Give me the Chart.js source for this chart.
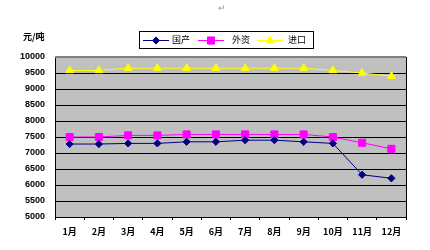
<!DOCTYPE html>
<html><head><meta charset="utf-8">
<script src="https://cdn.jsdelivr.net/npm/chart.js@4"></script>
<style>html,body{margin:0;padding:0;background:#fff;}#wrap{width:430px;height:250px;}</style>
</head><body><div id="wrap"><canvas id="c" width="430" height="250"></canvas></div>
<script>
const categories = ["1月","2月","3月","4月","5月","6月","7月","8月","9月","10月","11月","12月"];
const domestic = [7280,7280,7300,7300,7350,7350,7400,7400,7350,7300,6320,6210];
const foreign  = [7500,7500,7550,7550,7580,7580,7580,7580,7580,7500,7320,7130];
const imported = [9580,9580,9650,9650,9650,9650,9650,9650,9650,9580,9500,9400];
const seriesNames = ["国产","外资","进口"];
const yUnit = "元/吨";

const cjk = '"Noto Sans CJK SC", sans-serif';
const num = '"Liberation Sans", Arial, sans-serif';

const decor = {
  id:'decor',
  beforeDatasetsDraw(chart){
    const {ctx, chartArea:a} = chart;
    ctx.save();
    ctx.strokeStyle='#808080'; ctx.lineWidth=2;
    ctx.beginPath(); ctx.moveTo(a.left,a.top); ctx.lineTo(a.right,a.top); ctx.stroke();
    ctx.strokeStyle='#000'; ctx.lineWidth=1;
    ctx.beginPath(); ctx.moveTo(a.right+0.5,a.top); ctx.lineTo(a.right+0.5,a.bottom); ctx.stroke();
    ctx.restore();
  },
  afterDraw(chart){
    const {ctx} = chart;
    ctx.save();
    ctx.fillStyle='#999'; ctx.font='9px '+cjk; ctx.textAlign='center'; ctx.textBaseline='middle';
    ctx.fillText('↵',222,8);
    ctx.fillStyle='#000'; ctx.font='bold 9px '+cjk; ctx.textAlign='left';
    ctx.fillText(yUnit,23,37);
    ctx.strokeStyle='#000'; ctx.lineWidth=1;
    ctx.strokeRect(139.5,31.5,174,17);
    const items=[
      {x:143,c:'#000080',t:168},
      {x:198,c:'#FF00FF',t:228},
      {x:257,c:'#FFFF00',t:284}
    ];
    items.forEach((it,i)=>{
      const y=40;
      ctx.strokeStyle=it.c; ctx.lineWidth=1;
      ctx.beginPath(); ctx.moveTo(it.x,y+0.5); ctx.lineTo(it.x+26,y+0.5); ctx.stroke();
      const d = chart.data.datasets[i];
      ctx.fillStyle=it.c;
      Chart.helpers.drawPoint(ctx,{pointStyle:d.pointStyle,radius:d.pointRadius,rotation:0,borderWidth:1},it.x+13,y+0.5);
      ctx.fillStyle='#000'; ctx.font='9px '+cjk; ctx.textAlign='left'; ctx.textBaseline='middle';
      ctx.fillText(seriesNames[i],it.t+4,y);
    });
    ctx.restore();
  }
};

const bg = {
  id:'bg',
  beforeDraw(chart){
    const {ctx, chartArea:a} = chart;
    ctx.save(); ctx.fillStyle='#C0C0C0'; ctx.fillRect(a.left,a.top,a.right-a.left,a.bottom-a.top); ctx.restore();
  }
};

function ds(label,data,color,style,r){
  return {label,data,borderColor:color,backgroundColor:color,pointBorderColor:color,pointBackgroundColor:color,
    pointStyle:style,pointRadius:r,pointHoverRadius:r,borderWidth:1,tension:0};
}

new Chart(document.getElementById('c'),{
  type:'line',
  data:{labels:categories,datasets:[
    ds(seriesNames[0],domestic,'#000080','rectRot',3.6),
    ds(seriesNames[1],foreign,'#FF00FF','rect',5),
    ds(seriesNames[2],imported,'#FFFF00','triangle',4.5)
  ]},
  options:{
    responsive:false, animation:false, devicePixelRatio:1,
    layout:{padding:{left:0,right:24,top:57,bottom:0}},
    plugins:{legend:{display:false},tooltip:{enabled:false}},
    scales:{
      x:{offset:true,
        grid:{offset:true,drawOnChartArea:false,drawTicks:true,tickLength:3,color:'#000'},
        border:{color:'#000',width:1},
        ticks:{color:'#000',font:{family:cjk,size:9,weight:'bold'},padding:6,maxRotation:0,autoSkip:false},
        afterFit(s){s.height=33;}
      },
      y:{min:5000,max:10000,
        grid:{color:'#000',lineWidth:1,drawTicks:false},
        border:{color:'#000',width:1},
        ticks:{stepSize:500,color:'#000',font:{family:num,size:9,weight:'bold'},padding:10,
          callback:(v)=>String(v)},
        afterFit(s){s.width=55;}
      }
    }
  },
  plugins:[bg,decor]
});
</script></body></html>
